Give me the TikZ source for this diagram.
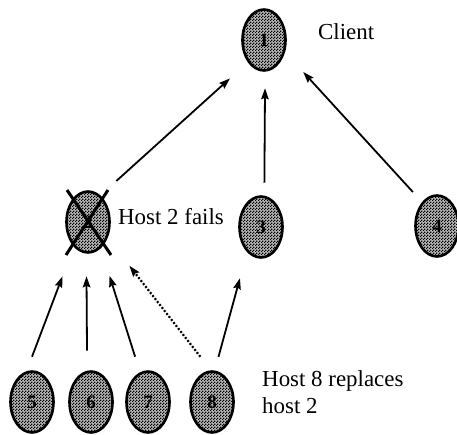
\documentclass[tikz,border=0pt]{standalone}
\usepackage{fontspec}
\setmainfont{Liberation Serif}
\usetikzlibrary{arrows.meta,patterns.meta,shapes.geometric}
\pgfdeclarepattern{name=finecheck, type=uncolored,
  bottom left=\pgfpointorigin, top right=\pgfpoint{3bp}{3bp}, tile size=\pgfpoint{3bp}{3bp},
  code={\pgfpathrectangle{\pgfpointorigin}{\pgfpoint{1.5bp}{1.5bp}}
        \pgfpathrectangle{\pgfpoint{1.5bp}{1.5bp}}{\pgfpoint{1.5bp}{1.5bp}}
        \pgfusepath{fill}}}
\tikzset{
  host/.style={ellipse, draw=black, line width=2.6bp, preaction={fill=gray!55},
    pattern={finecheck}, pattern color=black,
    minimum width=43bp, minimum height=61bp, inner sep=0pt,
    font=\fontsize{19}{19}\selectfont\bfseries},
  lbl/.style={anchor=base west, inner sep=0pt, font=\fontsize{23}{27}\selectfont},
  arr/.style={line width=1.8bp, -{Stealth[length=11bp,width=7.5bp,inset=1.5bp]}},
  dotarr/.style={arr, line width=2.2bp, dash pattern=on 2bp off 1.8bp},
  cross/.style={line width=3bp}
}
\begin{document}
\begin{tikzpicture}[x=1bp,y=-1bp]
\useasboundingbox (0,0) rectangle (457,435);
\node[host] (n1) at (264,40) {1};
\node[host] (n2) at (88,222) {2};
\node[host] (n3) at (261,227) {3};
\node[host] (n4) at (437,226) {4};
\node[host] (n5) at (32,402) {5};
\node[host] (n6) at (91,402) {6};
\node[host] (n7) at (148,402) {7};
\node[host] (n8) at (212,402) {8};
% cross over failed host
\draw[cross] ([shift={(-21,-32)}]n2.center) -- ([shift={(23,33)}]n2.center);
\draw[cross] ([shift={(20,-32)}]n2.center) -- ([shift={(-22,33)}]n2.center);
% labels
\node[lbl] (tc) at (318,40) {Client};
\node[lbl] (tf) at (118,225) {Host 2 fails};
\node[lbl, align=left, anchor=north west] (tr) at (262,370) {Host 8 replaces\\host 2};
% connectors
\draw[arr, shorten <=21.5bp, shorten >=24bp] (n2.65.2) -- (n1.-126.9);
\draw[arr, shorten <=13bp, shorten >=16.5bp] (n3.84.5) -- (n1.-88.2);
\draw[arr, shorten <=13.5bp, shorten >=26.9bp] (n4.122.5) -- (n1.-30.7);
\draw[arr, shorten <=15.4bp, shorten >=31.7bp] (n5.100.4) -- (n2.-120.6);
\draw[arr, shorten <=20bp, shorten >=22.6bp] (n6.97.4) -- (n2.-93.6);
\draw[arr, shorten <=16.3bp, shorten >=28.9bp] (n7.105.4) -- (n2.-64.8);
\draw[dotarr, shorten <=17.1bp, shorten >=35.3bp] (n8.92.7) -- (n2.-39.8);
\draw[arr, shorten <=14.1bp, shorten >=27bp] (n8.85.8) -- (n3.-119.3);
\end{tikzpicture}
\end{document}
